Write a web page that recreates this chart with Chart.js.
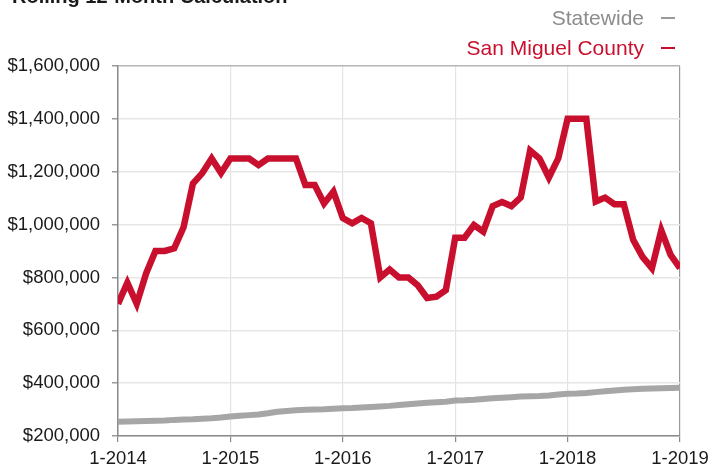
<!DOCTYPE html>
<html>
<head>
<meta charset="utf-8">
<script src="https://cdn.jsdelivr.net/npm/chart.js@4/dist/chart.umd.min.js"></script>
<style>
  html, body { margin: 0; padding: 0; background: #fff; overflow: hidden; }
  #wrap { position: relative; width: 708px; height: 468px; overflow: hidden; font-family: "Liberation Sans", Arial, sans-serif; }
  #title { position: absolute; left: 12px; top: -14px; font-size: 20px; line-height: 20px; font-weight: bold; color: #1a1a1a; white-space: nowrap; }
  #legend { position: absolute; right: 33px; top: 3px; font-size: 21px; line-height: 30px; text-align: right; white-space: nowrap; }
  #legend .dash { display: inline-block; width: 14px; height: 2px; margin-left: 17px; vertical-align: 6px; }
  canvas { position: absolute; left: 0; top: 0; }
</style>
</head>
<body>
<div id="wrap">
  <canvas id="c" width="708" height="468"></canvas>
  <div id="title">Rolling 12-Month Calculation</div>
  <div id="legend">
    <div style="color:#8c8c8c">Statewide<span class="dash" style="background:#9a9a9a"></span></div>
    <div style="color:#c8102e">San Miguel County<span class="dash" style="background:#c8102e"></span></div>
  </div>
</div>
<script>
// Tick labels for the x axis (every 12 months)
const xTickLabels = ["1-2014", "1-2015", "1-2016", "1-2017", "1-2018", "1-2019"];
// Y axis tick values
const yTicks = [200000, 400000, 600000, 800000, 1000000, 1200000, 1400000, 1600000];
// Monthly series, Jan 2014 .. Jan 2019 (61 months)
const sanMiguel = [
  700000, 780000, 700000, 815000, 900000, 900000, 910000, 990000, 1155000, 1195000, 1250000, 1195000,
  1250000, 1250000, 1250000, 1225000, 1250000, 1250000, 1250000, 1250000, 1150000, 1150000, 1080000, 1125000,
  1025000, 1005000, 1025000, 1005000, 800000, 830000, 800000, 800000, 770000, 722000, 727000, 752000,
  950000, 950000, 998000, 973000, 1070000, 1085000, 1070000, 1103000, 1280000, 1250000, 1178000, 1250000,
  1400000, 1400000, 1400000, 1087000, 1102000, 1077000, 1077000, 942000, 878000, 835000, 978000, 885000,
  835000
];
const statewide = [
  254000, 255000, 256000, 257000, 258000, 259000, 261000, 262000, 263000, 265000, 267000, 270000,
  274000, 277000, 279000, 281000, 286000, 292000, 295000, 297000, 299000, 300000, 301000, 303000,
  305000, 306000, 308000, 310000, 312000, 314000, 317000, 320000, 323000, 326000, 328000, 330000,
  334000, 335000, 337000, 340000, 343000, 345000, 347000, 349000, 350000, 351000, 353000, 357000,
  360000, 361000, 363000, 366000, 369000, 372000, 375000, 377000, 379000, 380000, 381000, 382000,
  383000
];

const toPts = arr => arr.map((v, i) => ({ x: i, y: v }));
const font = { family: "'Liberation Sans', Arial, sans-serif", size: 18.5 };

new Chart(document.getElementById('c'), {
  type: 'line',
  data: {
    datasets: [
      { label: 'San Miguel County', data: toPts(sanMiguel), borderColor: '#c8102e', borderWidth: 6.5,
        pointRadius: 0, tension: 0, fill: false, order: 1 },
      { label: 'Statewide', data: toPts(statewide), borderColor: '#a6a6a6', borderWidth: 6,
        pointRadius: 0, tension: 0, fill: false, order: 2 }
    ]
  },
  options: {
    responsive: false,
    animation: false,
    devicePixelRatio: 1,
    layout: { padding: { left: 0, top: 66, right: 28, bottom: 0 } },
    plugins: { legend: { display: false }, tooltip: { enabled: false }, title: { display: false } },
    scales: {
      x: {
        type: 'linear', min: 0, max: (xTickLabels.length - 1) * 12,
        afterFit: s => { s.height = 32; s.paddingLeft = 0; s.paddingRight = 0; },
        ticks: {
          stepSize: 12, autoSkip: false, maxRotation: 0, padding: 6, color: '#1a1a1a', font,
          callback: v => xTickLabels[v / 12]
        },
        grid: {
          drawOnChartArea: true, tickLength: 6,
          color: ctx => (ctx.tick && ctx.tick.value === 60) ? '#999999' : '#e3e3e3',
          tickColor: '#8a8a8a', lineWidth: 1.2
        },
        border: { display: true, color: '#8a8a8a', width: 1.5 }
      },
      y: {
        min: yTicks[0], max: yTicks[yTicks.length - 1],
        afterFit: s => { s.width = 118; s.paddingTop = 0; s.paddingBottom = 0; },
        afterBuildTicks: s => { s.ticks = yTicks.map(v => ({ value: v })); },
        ticks: {
          padding: 12, color: '#1a1a1a', font,
          callback: v => '$' + Number(v).toLocaleString('en-US')
        },
        grid: {
          tickLength: 6,
          color: ctx => (ctx.tick && ctx.tick.value === 1600000) ? '#b5b5b5' : '#e6e6e6',
          tickColor: '#9a9a9a', lineWidth: 1.5
        },
        border: { display: true, color: '#8a8a8a', width: 1.5 }
      }
    }
  }
});
</script>
</body>
</html>
